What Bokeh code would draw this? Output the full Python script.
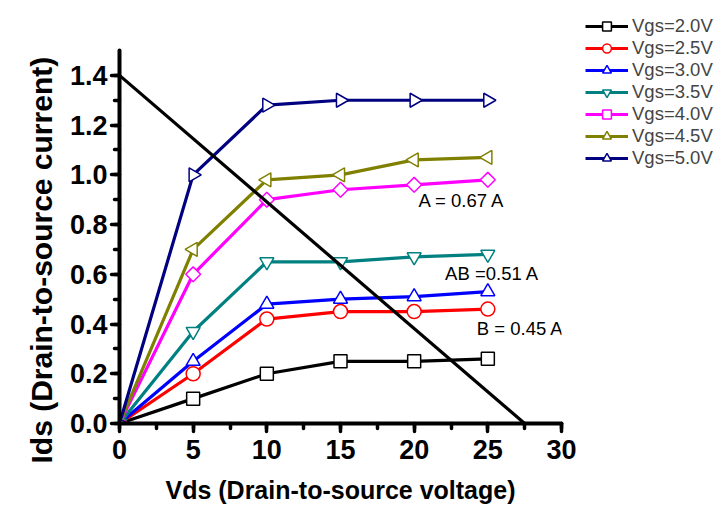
import math
from bokeh.plotting import figure
from bokeh.models import (Range1d, SingleIntervalTicker, Legend, LegendItem, Label, Title,
                          ColumnDataSource, CustomJSTickFormatter)
from bokeh.embed import file_html
from bokeh.resources import INLINE

# ---- data ----
vds = [0, 5, 10, 15, 20, 25]
series_names = ["Vgs=2.0V", "Vgs=2.5V", "Vgs=3.0V", "Vgs=3.5V", "Vgs=4.0V", "Vgs=4.5V", "Vgs=5.0V"]
ids_20 = [0, 0.10, 0.20, 0.25, 0.25, 0.26]
ids_25 = [0, 0.20, 0.42, 0.45, 0.45, 0.46]
ids_30 = [0, 0.25, 0.48, 0.50, 0.51, 0.53]
ids_35 = [0, 0.37, 0.65, 0.65, 0.67, 0.68]
ids_40 = [0, 0.60, 0.90, 0.94, 0.96, 0.98]
ids_45 = [0, 0.70, 0.98, 1.00, 1.06, 1.07]
ids_50 = [0, 1.00, 1.28, 1.30, 1.30, 1.30]
load_x = [0, 27.5]
load_y = [1.4, 0]
ann_text = ["A = 0.67 A", "AB =0.51 A", "B = 0.45 A"]
ann_x = [20.3, 22.1, 24.25]
ann_y = [0.897, 0.603, 0.382]

all_ids = [ids_20, ids_25, ids_30, ids_35, ids_40, ids_45, ids_50]
colors = ["#000000", "#FF0000", "#0000FF", "#008080", "#FF00FF", "#808000", "#000080"]
markers = ["square", "circle", "triangle", "inverted_triangle", "square", "triangle", "triangle"]
angles = [0, 0, 0, 0, math.pi / 4, math.pi / 2, -math.pi / 2]
msizes = [13, 14, 14, 14, 10.5, 14, 14]

FONT = "Liberation Sans"

p = figure(frame_width=442, frame_height=373, min_border_left=119, min_border_top=50,
           min_border_bottom=90, min_border_right=160,
           x_range=Range1d(0, 30), y_range=Range1d(0, 1.5),
           output_backend="svg", toolbar_location=None)
p.outline_line_color = None
p.xgrid.visible = False
p.ygrid.visible = False
p.background_fill_color = "white"
p.border_fill_color = "white"

p.xaxis.ticker = SingleIntervalTicker(interval=5, num_minor_ticks=2)
p.yaxis.ticker = SingleIntervalTicker(interval=0.2, num_minor_ticks=2)
p.yaxis.formatter = CustomJSTickFormatter(code="return tick.toFixed(1);")
p.xaxis.formatter = CustomJSTickFormatter(code="return tick.toFixed(0);")

for ax in (p.xaxis[0], p.yaxis[0]):
    ax.axis_line_width = 4
    ax.axis_line_cap = "round"
    ax.major_tick_line_width = 3.5
    ax.minor_tick_line_width = 3.5
    ax.major_tick_line_cap = "round"
    ax.minor_tick_line_cap = "round"
    ax.major_tick_out = 8
    ax.major_tick_in = 0
    ax.minor_tick_out = 5
    ax.minor_tick_in = 0
    ax.major_label_text_font = FONT
    ax.major_label_text_font_style = "bold"
    ax.major_label_text_font_size = "27px"
    ax.major_label_text_color = "black"
    ax.axis_label_text_font = FONT
    ax.axis_label_text_font_style = "bold"
    ax.axis_label_text_color = "black"

p.xaxis.major_label_standoff = 8
p.yaxis.major_label_standoff = 4
p.xaxis.axis_label = "Vds (Drain-to-source voltage)"
p.xaxis.axis_label_text_font_size = "25px"
p.xaxis.axis_label_standoff = 14

ytitle = Title(text="Ids (Drain-to-source current)", align="left", offset=-40,
               text_font=FONT, text_font_style="bold", text_font_size="30px",
               text_color="black", standoff=18)
p.add_layout(ytitle, "left")

items = []
for name, ys, c, m, a, s in zip(series_names, all_ids, colors, markers, angles, msizes):
    src = ColumnDataSource(dict(x=vds, y=ys))
    lr = p.line("x", "y", source=src, line_color=c, line_width=3.2)
    sr = p.scatter("x", "y", source=src, marker=m, angle=a, size=s,
                   fill_color="white", line_color=c, line_width=1.5)
    items.append(LegendItem(label=name, renderers=[lr, sr]))

p.line(load_x, load_y, line_color="black", line_width=3.2)

for t, x, y in zip(ann_text, ann_x, ann_y):
    p.add_layout(Label(x=x, y=y, text=t, text_font=FONT, text_font_size="18.5px",
                       text_baseline="middle", text_align="left", text_color="black"))

legend = Legend(items=items, location=(24, 254), glyph_width=43, glyph_height=22,
                label_height=22, spacing=0, padding=0, margin=0, label_standoff=4,
                label_text_font=FONT, label_text_font_size="18.5px",
                border_line_color=None, background_fill_alpha=0)
p.add_layout(legend, "right")

open("out.html", "w").write(file_html(p, INLINE))
